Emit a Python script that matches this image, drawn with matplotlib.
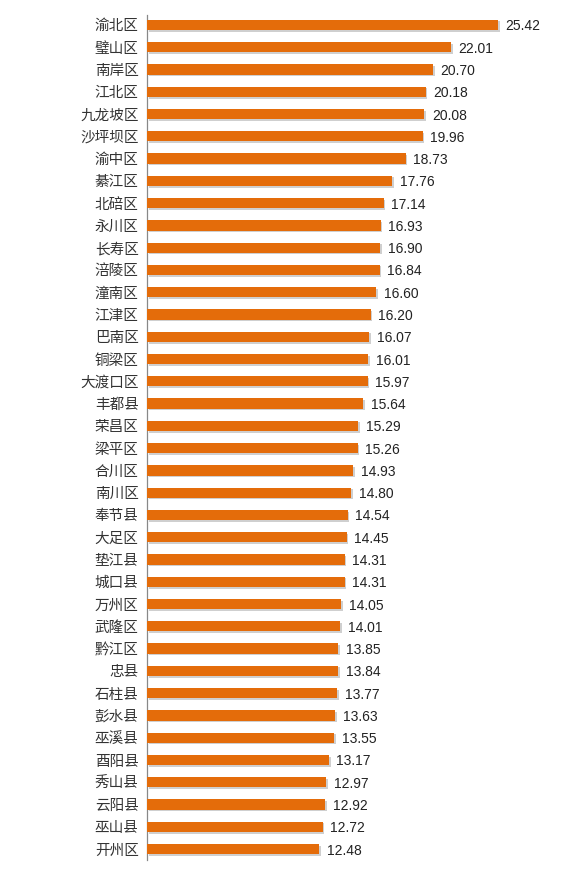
import matplotlib
matplotlib.use('Agg')
import matplotlib.pyplot as plt
import matplotlib.patheffects as pe

plt.rcParams['font.family'] = ['Noto Sans CJK SC', 'DejaVu Sans']

# district names, top to bottom
districts = ['渝北区', '璧山区', '南岸区', '江北区', '九龙坡区', '沙坪坝区', '渝中区', '綦江区',
             '北碚区', '永川区', '长寿区', '涪陵区', '潼南区', '江津区', '巴南区', '铜梁区',
             '大渡口区', '丰都县', '荣昌区', '梁平区', '合川区', '南川区', '奉节县', '大足区',
             '垫江县', '城口县', '万州区', '武隆区', '黔江区', '忠县', '石柱县', '彭水县',
             '巫溪县', '酉阳县', '秀山县', '云阳县', '巫山县', '开州区']
values = [25.42, 22.01, 20.70, 20.18, 20.08, 19.96, 18.73, 17.76,
          17.14, 16.93, 16.90, 16.84, 16.60, 16.20, 16.07, 16.01,
          15.97, 15.64, 15.29, 15.26, 14.93, 14.80, 14.54, 14.45,
          14.31, 14.31, 14.05, 14.01, 13.85, 13.84, 13.77, 13.63,
          13.55, 13.17, 12.97, 12.92, 12.72, 12.48]

fig = plt.figure(figsize=(5.71, 8.77), dpi=100)
ax = fig.add_axes([0.2574, 0.0194, 0.7256, 0.9636])

pos = list(range(len(values)))
bars = ax.barh(pos, values, height=0.46, color='#E46C0A', zorder=3)
for b in bars:
    b.set_path_effects([pe.SimplePatchShadow(offset=(1.2, -1.2), shadow_rgbFace='#a0a0a0', alpha=0.5),
                        pe.Normal()])

for y, v in zip(pos, values):
    ax.text(v + 0.55, y, f'{v:.2f}', va='center_baseline', ha='left', fontsize=10,
            family=['Liberation Sans', 'DejaVu Sans'], color='#222222')

ax.set_xlim(0, 30)
ax.set_ylim(len(values) - 0.51, -0.45)
ax.set_yticks(pos)
ax.set_yticklabels(districts, fontsize=10.5, color='#333333')
ax.tick_params(axis='y', length=0, pad=6)
ax.set_xticks([])
for s in ['top', 'right', 'bottom']:
    ax.spines[s].set_visible(False)
ax.spines['left'].set_color('#888888')
ax.spines['left'].set_linewidth(0.9)

fig.savefig('out.png', dpi=100)
